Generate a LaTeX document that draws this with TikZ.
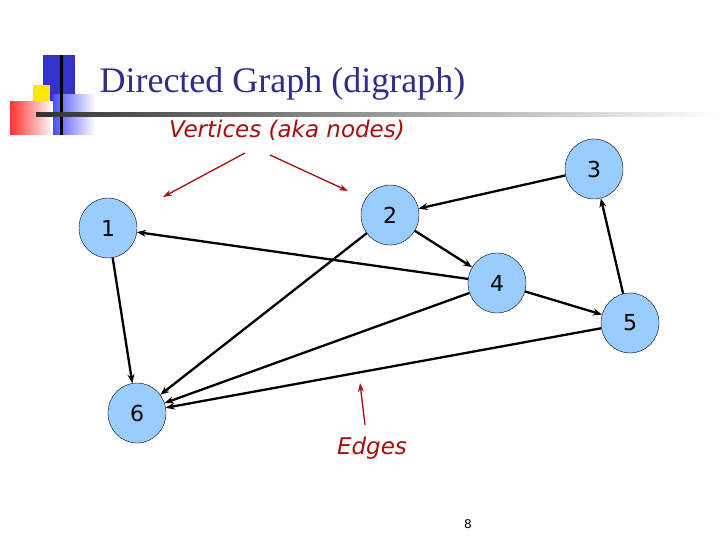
\documentclass[tikz,border=0pt]{standalone}
\usepackage{fontspec}
\setmainfont{Liberation Serif}
\newfontfamily\vfont{DejaVu Sans}
\usetikzlibrary{arrows.meta,shapes.geometric}
\begin{document}
\begin{tikzpicture}[x=1pt,y=-1pt,
  vert/.style={ellipse,draw=black,fill=ltblue,minimum width=58pt,minimum height=60pt,inner sep=0pt,font=\vfont\fontsize{22}{22}\selectfont},
  edge/.style={line width=2.3pt,-{Stealth[length=9pt,width=7pt]}},
  redarr/.style={draw=darkred,line width=1.3pt,-{Stealth[length=9pt,width=6pt]}},
  lbl/.style={text=darkred,font=\vfont\itshape\fontsize{23}{23}\selectfont}]
\definecolor{ltblue}{HTML}{99CCFF}
\definecolor{darkred}{HTML}{A50E0E}
\definecolor{titleblue}{HTML}{2E2E8A}
\useasboundingbox (0,0) rectangle (720,540);
% logo
\fill[blue!75!black!80!white] (43,55) rectangle (75,103);
\fill[yellow!90!orange] (33,85) rectangle (50,112);
\fill[yellow!90!orange] (53,98) rectangle (70,115);
\shade[left color=red!80, right color=white] (10,102) rectangle (53,135);
\shade[left color=blue!70, right color=white] (53,95) rectangle (95,135);
\draw[line width=3pt] (61,55) -- (61,135);
\shade[left color=black!80, right color=white] (36,113) rectangle (720,117);
\node[anchor=west,text=titleblue,font=\fontsize{36}{36}\selectfont] (title) at (96,84) {Directed Graph (digraph)};
\node[lbl] (vl) at (287,130) {Vertices (aka nodes)};
\node[vert] (n1) at (108,228) {1};
\node[vert] (n2) at (390,215) {2};
\node[vert] (n3) at (594,169) {3};
\node[vert] (n4) at (497,283) {4};
\node[vert] (n5) at (630,323) {5};
\node[vert] (n6) at (137,413) {6};
\draw[edge] (n4) -- (n1);
\draw[edge] (n3) -- (n2);
\draw[edge] (n2) -- (n4);
\draw[edge] (n2) -- (n6);
\draw[edge] (n1) -- (n6);
\draw[edge] (n4) -- (n6);
\draw[edge] (n5) -- (n6);
\draw[edge] (n4) -- (n5);
\draw[edge] (n5) -- (n3);
\coordinate (va) at (245,153);
\coordinate (vb) at (270,155);
\coordinate (ta) at (163,197);
\coordinate (tb) at (348,191);
\draw[redarr] (va) -- (ta);
\draw[redarr] (vb) -- (tb);
\node[lbl] (el) at (372,448) {Edges};
\coordinate (ea) at (365,425);
\coordinate (eb) at (360,383);
\draw[redarr] (ea) -- (eb);
\node[font=\vfont\fontsize{12}{12}\selectfont] (pg) at (468,524) {8};
\end{tikzpicture}
\end{document}
